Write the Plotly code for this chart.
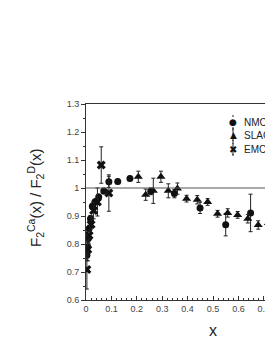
import plotly.graph_objects as go

# NMC (circles)
nmc_x = [0.0035, 0.006, 0.009, 0.0125, 0.0175, 0.025, 0.035, 0.05, 0.07, 0.09, 0.125, 0.173, 0.255, 0.348, 0.449, 0.55, 0.648]
nmc_y = [0.76, 0.79, 0.82, 0.855, 0.89, 0.935, 0.95, 0.968, 0.989, 1.022, 1.023, 1.034, 0.988, 0.98, 0.929, 0.869, 0.911]
nmc_e = [0.02, 0.015, 0.012, 0.012, 0.012, 0.01, 0.01, 0.01, 0.01, 0.02, 0.008, 0.008, 0.012, 0.015, 0.02, 0.04, 0.067]

# SLAC (triangles)
slac_x = [0.206, 0.235, 0.265, 0.295, 0.324, 0.36, 0.396, 0.438, 0.479, 0.518, 0.558, 0.597, 0.637, 0.678, 0.718]
slac_y = [1.04, 0.976, 0.99, 1.04, 0.99, 0.998, 0.962, 0.958, 0.95, 0.908, 0.911, 0.904, 0.89, 0.868, 0.875]
slac_e = [0.02, 0.02, 0.045, 0.02, 0.025, 0.02, 0.012, 0.015, 0.012, 0.012, 0.015, 0.012, 0.015, 0.015, 0.015]

# EMC (crosses)
emc_x = [0.0035, 0.007, 0.012, 0.02, 0.03, 0.045, 0.06, 0.09]
emc_y = [0.709, 0.78, 0.83, 0.87, 0.92, 0.95, 1.082, 0.982]
emc_e = [0.07, 0.04, 0.03, 0.03, 0.03, 0.05, 0.065, 0.065]

series_names = ["NMC", "SLAC", "EMC"]
legend_glyphs = ["●", "▲", "✖"]

x_ticks = [0, 0.1, 0.2, 0.3, 0.4, 0.5, 0.6, 0.7]
x_labels = ["0", "0.1", "0.2", "0.3", "0.4", "0.5", "0.6", "0.7"]
y_ticks = [0.6, 0.7, 0.8, 0.9, 1.0, 1.1, 1.2, 1.3]
y_labels = ["0.6", "0.7", "0.8", "0.9", "1", "1.1", "1.2", "1.3"]

# page body has an 8px margin: lay out in page pixels then shift
OFF = 8
W, H = 273 - OFF, 353 - 2 * OFF
L, T = 86 - OFF, 104 - OFF
plot_h = 196
B = H - T - plot_h
plot_w = W - L
x_max = plot_w / 254.0

FONT = "Liberation Sans, Arial, sans-serif"
err_style = dict(type="data", thickness=1, width=2, color="#222")

fig = go.Figure()
fig.add_trace(go.Scatter(x=nmc_x, y=nmc_y, mode="markers", name=series_names[0],
                         marker=dict(symbol="circle", size=7, color="#111"),
                         error_y=dict(array=nmc_e, **err_style)))
fig.add_trace(go.Scatter(x=slac_x, y=slac_y, mode="markers", name=series_names[1],
                         marker=dict(symbol="triangle-up", size=8, color="#111"),
                         error_y=dict(array=slac_e, **err_style)))
fig.add_trace(go.Scatter(x=emc_x, y=emc_y, mode="markers", name=series_names[2],
                         marker=dict(symbol="x", size=8, color="#111"),
                         error_y=dict(array=emc_e, **err_style)))

fig.add_hline(y=1.0, line=dict(color="#555", width=1))

tick_font = dict(family=FONT, size=9, color="#444")


def px_x(page_x):
    return (page_x - OFF - L) / plot_w


def px_y(page_y):
    return 1 - (page_y - OFF - T) / plot_h


annotations = [
    dict(text="x", xref="paper", yref="paper", x=px_x(213), y=px_y(330),
         xanchor="center", yanchor="middle", showarrow=False,
         font=dict(family=FONT, size=16, color="#222")),
    dict(text="F<sub>2</sub><sup>Ca</sup>(x) / F<sub>2</sub><sup>D</sup>(x)", xref="paper", yref="paper",
         x=px_x(35), y=px_y(198), textangle=-90,
         xanchor="center", yanchor="middle", showarrow=False,
         font=dict(family=FONT, size=15, color="#222")),
]
shapes = []
legend_rows_px = [122, 135, 149]
glyph_sizes = [9, 9, 10]
for name, glyph, ry, gs in zip(series_names, legend_glyphs, legend_rows_px, glyph_sizes):
    annotations.append(dict(text=glyph, xref="paper", yref="paper", x=px_x(233), y=px_y(ry),
                            xanchor="center", yanchor="middle", showarrow=False,
                            font=dict(family="DejaVu Sans", size=gs, color="#111")))
    annotations.append(dict(text=name, xref="paper", yref="paper", x=px_x(242), y=px_y(ry),
                            xanchor="left", yanchor="middle", showarrow=False,
                            font=dict(family=FONT, size=10, color="#222")))
    # small error-bar decoration of the legend key
    shapes.append(dict(type="line", xref="paper", yref="paper", x0=px_x(233), x1=px_x(233),
                       y0=px_y(ry - 6), y1=px_y(ry + 6), line=dict(color="#222", width=1)))
    for yc in (ry - 6, ry + 6):
        shapes.append(dict(type="line", xref="paper", yref="paper", x0=px_x(232), x1=px_x(234),
                           y0=px_y(yc), y1=px_y(yc), line=dict(color="#222", width=1)))

fig.update_layout(
    width=W, height=H,
    margin=dict(l=L, r=0, t=T, b=B, pad=0),
    paper_bgcolor="white", plot_bgcolor="white",
    showlegend=False,
    xaxis=dict(range=[0, x_max], tickvals=x_ticks, ticktext=x_labels, showgrid=False, zeroline=False,
               showline=True, linecolor="#333", linewidth=1, mirror=True,
               ticks="inside", ticklen=4, tickcolor="#333", tickfont=tick_font,
               minor=dict(dtick=0.02, ticks="inside", ticklen=2, tickcolor="#333")),
    yaxis=dict(range=[0.6, 1.3], tickvals=y_ticks, ticktext=y_labels, showgrid=False, zeroline=False,
               showline=True, linecolor="#333", linewidth=1,
               ticks="outside", ticklen=4, tickcolor="#333", tickfont=tick_font,
               minor=dict(dtick=0.05, ticks="outside", ticklen=2, tickcolor="#333")),
    annotations=annotations,
    shapes=shapes,
)

fig.write_html("out.html")
